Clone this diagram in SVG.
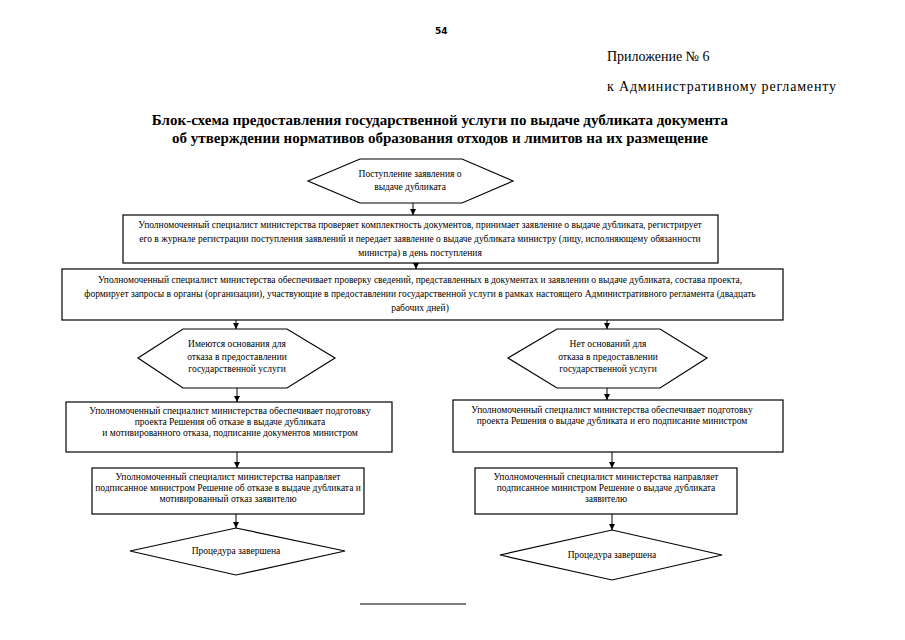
<svg xmlns="http://www.w3.org/2000/svg" width="905" height="640" viewBox="0 0 905 640">
<defs>
<style>
text{font-family:'Liberation Serif','DejaVu Serif',serif;fill:#000}
.t{font-size:9.5px;text-anchor:middle}
.s{fill:#fff;stroke:#000;stroke-width:1.2}
.c{stroke:#000;stroke-width:1;fill:none}
.h{font-size:14px}
.ti{font-size:15px;font-weight:bold;text-anchor:middle}
</style>
<marker id="a" viewBox="0 0 8 8" refX="8" refY="4" markerWidth="6" markerHeight="6" orient="auto" markerUnits="userSpaceOnUse">
<path d="M0,0 L8,4 L0,8 z" fill="#000"/>
</marker>
</defs>
<rect width="905" height="640" fill="#fff"/>
<g font-family="Liberation Serif, DejaVu Serif, serif">
<text x="435" y="34" style="font-family:'DejaVu Sans',sans-serif;font-size:9px;font-weight:bold">54</text>
<text class="h" x="607" y="61">Приложение № 6</text>
<text class="h" x="607" y="91" textLength="229" lengthAdjust="spacing">к Административному регламенту</text>
<text class="ti" x="440" y="125">Блок-схема предоставления государственной услуги по выдаче дубликата документа</text>
<text class="ti" x="440" y="143">об утверждении нормативов образования отходов и лимитов на их размещение</text>

<g id="connectors">
<line class="c" x1="413" y1="203" x2="413" y2="215" marker-end="url(#a)"/>
<line class="c" x1="416" y1="263" x2="416" y2="269" marker-end="url(#a)"/>
<line class="c" x1="236" y1="320" x2="236" y2="329" marker-end="url(#a)"/>
<line class="c" x1="607" y1="320" x2="607" y2="329" marker-end="url(#a)"/>
<line class="c" x1="237" y1="388" x2="237" y2="402" marker-end="url(#a)"/>
<line class="c" x1="607" y1="388" x2="607" y2="400" marker-end="url(#a)"/>
<line class="c" x1="237" y1="452" x2="237" y2="468" marker-end="url(#a)"/>
<line class="c" x1="612" y1="452" x2="612" y2="468" marker-end="url(#a)"/>
<line class="c" x1="236" y1="514" x2="236" y2="528" marker-end="url(#a)"/>
<line class="c" x1="612" y1="514" x2="612" y2="530" marker-end="url(#a)"/>
</g>

<g id="start">
<polygon class="s" points="308,181 360,159 462,159 513,181 462,203 360,203"/>
<text class="t" x="410" y="177">Поступление заявления о</text>
<text class="t" x="410" y="190">выдаче дубликата</text>
</g>

<g id="step1">
<rect class="s" x="123" y="215" width="595" height="48"/>
<text class="t" x="420" y="228">Уполномоченный специалист министерства проверяет комплектность документов, принимает заявление о выдаче дубликата, регистрирует</text>
<text class="t" x="420" y="242">его в журнале регистрации поступления заявлений и передает заявление о выдаче дубликата министру (лицу, исполняющему обязанности</text>
<text class="t" x="420" y="256">министра) в день поступления</text>
</g>

<g id="step2">
<rect class="s" x="62" y="269" width="721" height="51"/>
<text class="t" x="420" y="283">Уполномоченный специалист министерства обеспечивает проверку сведений, представленных в документах и заявлении о выдаче дубликата, состава проекта,</text>
<text class="t" x="420" y="297">формирует запросы в органы (организации), участвующие в предоставлении государственной услуги в рамках настоящего Административного регламента (двадцать</text>
<text class="t" x="420" y="311">рабочих дней)</text>
</g>

<g id="cond-yes">
<polygon class="s" points="138,358 183,329 287,329 335,358 287,388 183,388"/>
<text class="t" x="237" y="347">Имеются основания для</text>
<text class="t" x="237" y="360">отказа в предоставлении</text>
<text class="t" x="237" y="372">государственной услуги</text>
</g>

<g id="cond-no">
<polygon class="s" points="508,358 557,329 660,329 707,358 660,388 557,388"/>
<text class="t" x="608" y="347">Нет оснований для</text>
<text class="t" x="608" y="360">отказа в предоставлении</text>
<text class="t" x="608" y="372">государственной услуги</text>
</g>

<g id="refuse-prep">
<rect class="s" x="66" y="402" width="326" height="50"/>
<text class="t" x="230" y="414">Уполномоченный специалист министерства обеспечивает подготовку</text>
<text class="t" x="230" y="425">проекта Решения об отказе в выдаче дубликата</text>
<text class="t" x="230" y="436">и мотивированного отказа, подписание документов министром</text>
</g>

<g id="issue-prep">
<rect class="s" x="453" y="400" width="330" height="52"/>
<text class="t" x="612" y="413">Уполномоченный специалист министерства обеспечивает подготовку</text>
<text class="t" x="612" y="424">проекта Решения о выдаче дубликата и его подписание министром</text>
</g>

<g id="refuse-send">
<rect class="s" x="92" y="468" width="272" height="46"/>
<text class="t" x="228" y="480">Уполномоченный специалист министерства направляет</text>
<text class="t" x="228" y="491">подписанное министром Решение об отказе в выдаче дубликата и</text>
<text class="t" x="228" y="502">мотивированный отказ заявителю</text>
</g>

<g id="issue-send">
<rect class="s" x="475" y="468" width="262" height="46"/>
<text class="t" x="606" y="480">Уполномоченный специалист министерства направляет</text>
<text class="t" x="606" y="491">подписанное министром Решение о выдаче дубликата</text>
<text class="t" x="606" y="502">заявителю</text>
</g>

<g id="end-left">
<polygon class="s" points="130,551 236,528 345,551 236,575"/>
<text class="t" x="236" y="554">Процедура завершена</text>
</g>

<g id="end-right">
<polygon class="s" points="500,555 612,530 722,555 612,580"/>
<text class="t" x="612" y="558">Процедура завершена</text>
</g>
</g>
<line x1="360" y1="604" x2="466" y2="604" stroke="#000" stroke-width="1.2"/>
</svg>
